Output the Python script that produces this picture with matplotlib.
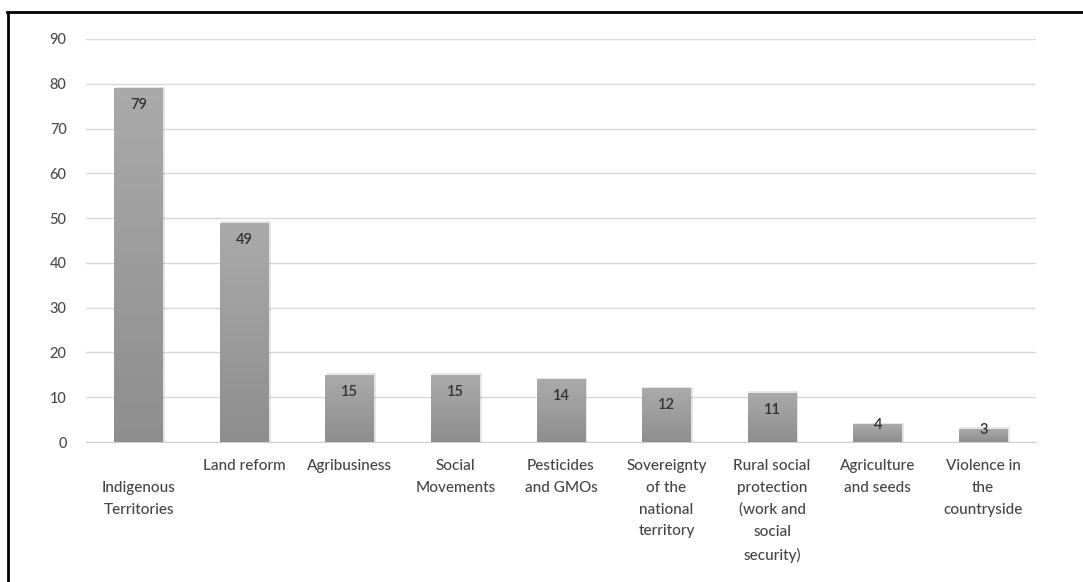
import numpy as np
import matplotlib
matplotlib.use("Agg")
import matplotlib.pyplot as plt
from matplotlib.patches import Rectangle
from matplotlib.lines import Line2D

# Data
categories = [
    "\nIndigenous\nTerritories",
    "Land reform",
    "Agribusiness",
    "Social\nMovements",
    "Pesticides\nand GMOs",
    "Sovereignty\nof the\nnational\nterritory",
    "Rural social\nprotection\n(work and\nsocial\nsecurity)",
    "Agriculture\nand seeds",
    "Violence in\nthe\ncountryside",
]
values = [79, 49, 15, 15, 14, 12, 11, 4, 3]
yticks = [0, 10, 20, 30, 40, 50, 60, 70, 80, 90]

plt.rcParams["font.family"] = ["Lato", "DejaVu Sans"]

fig = plt.figure(figsize=(10.83, 5.82), dpi=100)
ax = fig.add_axes([86 / 1083, 1 - 442 / 582, 950 / 1083, 403 / 582])

x = np.arange(len(values))
width = 0.464

# gradient bars
grad = np.linspace(0, 1, 256).reshape(-1, 1)
cmap = matplotlib.colors.LinearSegmentedColormap.from_list("g", ["#8e8e8e", "#aaaaaa"])
for xi, v in zip(x, values):
    # soft shadow
    sh = Rectangle((xi - width / 2 + 0.012, 0), width + 0.006, v + 0.3,
                   facecolor="#000000", alpha=0.1, edgecolor="none", zorder=2)
    ax.add_patch(sh)
    rect = Rectangle((xi - width / 2, 0), width, v, facecolor="none", edgecolor="none", zorder=3)
    ax.add_patch(rect)
    im = ax.imshow(grad, extent=(xi - width / 2, xi + width / 2, 0, v), origin="lower",
                   cmap=cmap, aspect="auto", zorder=3, vmin=0, vmax=1)
    im.set_clip_path(rect)
    # value labels
    off = -17 if v > 8 else -1
    ax.annotate(str(v), (xi, v), xytext=(0, off), textcoords="offset pixels",
                ha="center", va="center", fontsize=10.5, color="#333333",
                fontweight="semibold", zorder=4)

ax.set_aspect("auto")
ax.set_xlim(-0.5, len(values) - 0.5)
ax.set_ylim(0, 90)

ax.set_yticks(yticks)
ax.yaxis.grid(True, color="#d9d9d9", linewidth=1)
ax.set_axisbelow(True)
for s in ["top", "right", "left"]:
    ax.spines[s].set_visible(False)
ax.spines["bottom"].set_color("#d0d0d0")
ax.tick_params(axis="y", length=0, pad=14, labelsize=10.5, labelcolor="#4a4a4a")
ax.tick_params(axis="x", length=0, pad=12, labelsize=11, labelcolor="#454545")
ax.set_xticks(x)
ax.set_xticklabels(categories, linespacing=1.72, va="top")
for lab in ax.get_xticklabels() + ax.get_yticklabels():
    lab.set_fontweight("medium")

# frame lines (top and left)
fig.add_artist(Line2D([7 / 1083, 1], [1 - 12 / 582, 1 - 12 / 582], color="black", lw=2))
fig.add_artist(Line2D([8 / 1083, 8 / 1083], [0, 1 - 12 / 582], color="black", lw=2))

fig.savefig("out.png", dpi=100)
